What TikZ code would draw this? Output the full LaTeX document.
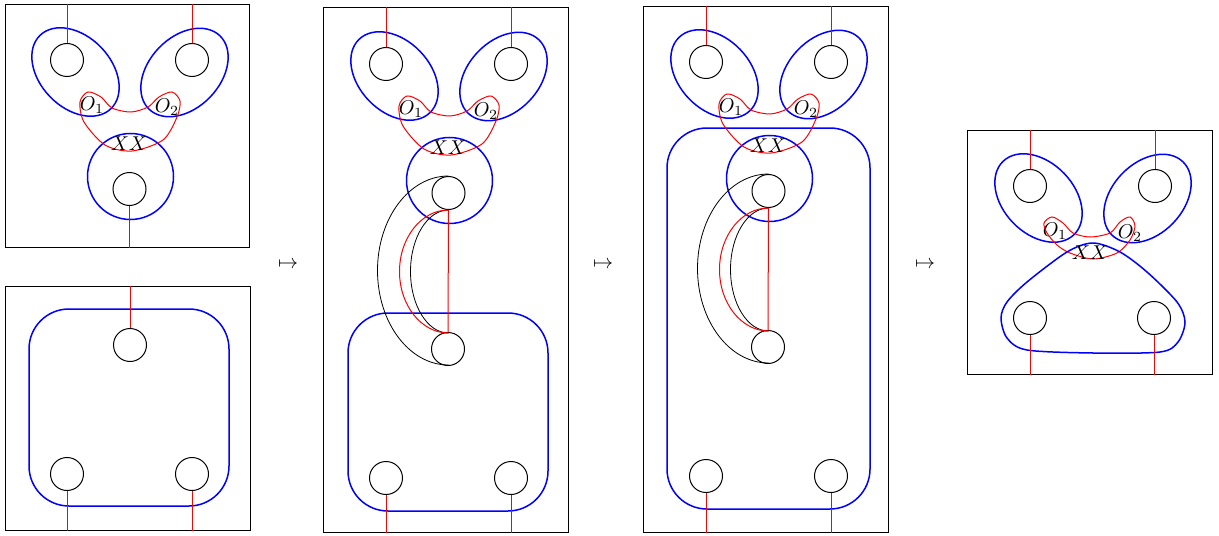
\documentclass[tikz,border=0pt]{standalone}

\tikzset{
  hole/.style={draw, circle, minimum size=16.5pt, inner sep=0pt, line width=0.5pt},
  ring/.style={draw=blue, line width=0.75pt},
  strand/.style={draw=red, line width=0.5pt},
  panel/.style={draw, line width=0.5pt, inner sep=0pt},
  lobes/.pic={
    \node[hole] (-tl) at (0,0) {};
    \node[hole] (-tr) at (125,0) {};
    \draw[ring, shift={(8.5,12)}, rotate=-46] (0,0) ellipse [x radius=51, y radius=35.5];
    \draw[ring, shift={(117.5,12.5)}, rotate=46] (0,0) ellipse [x radius=51, y radius=35.5];
    \node (-o1) at (25,45) {$O_1$};
    \node (-o2) at (100,47) {$O_2$};
  },
  knot/.pic={
    \draw[ring] (63.5,116.5) circle [radius=43];
    \draw[strand] plot[smooth cycle] coordinates {(13,42) (21,32) (34,37) (45,48) (64,52) (81,47) (92,37) (105,32) (113,41) (110,57) (96,80) (65,91) (38,85) (17,62)};
    \node (-xx) at (62,84) {$XX$};
    \node[hole] (-mid) at (62.5,129) {};
  },
}

\begin{document}
\begin{tikzpicture}[x=0.5pt, y=-0.5pt]
  \useasboundingbox (0,0) rectangle (1219,535);

  % first column, top
  \node[panel, minimum width=122pt, minimum height=121pt] (box1) at (127,126) {};
  \pic (p1) at (67,60) {lobes};
  \pic (p1) at (67,60) {knot};
  \draw[strand] (p1-tl.north) -- (p1-tl.north |- box1.north);
  \draw[strand] (p1-tr.north) -- (p1-tr.north |- box1.north);
  \draw[strand] (p1-mid.south) -- (p1-mid.south |- box1.south);

  % first column, bottom
  \node[panel, minimum width=122.5pt, minimum height=122pt] (box0) at (127.5,408) {};
  \draw[ring, rounded corners=20pt] (29,309) rectangle (229,506);
  \node[hole] (q-top) at (130,345) {};
  \node[hole] (q-bl) at (67,474) {};
  \node[hole] (q-br) at (192,474) {};
  \draw[strand] (q-top.north) -- (q-top.north |- box0.north);
  \draw[strand] (q-bl.south) -- (q-bl.south |- box0.south);
  \draw[strand] (q-br.south) -- (q-br.south |- box0.south);

  \node (m1) at (288,265) {$\mapsto$};

  % second panel
  \node[panel, minimum width=122.25pt, minimum height=262pt] (box2) at (445.75,270) {};
  \draw[ring, rounded corners=20pt] (348,313) rectangle (548,511);
  \pic (p2) at (386,64) {lobes};
  \pic (p2) at (386,64) {knot};
  \node[hole] (p2-low) at (448,349) {};
  \node[hole] (p2-bl) at (386,478) {};
  \node[hole] (p2-br) at (511,478) {};

  \node (m2) at (603,265) {$\mapsto$};

  % third panel
  \node[panel, minimum width=122.5pt, minimum height=262.5pt] (box3) at (765.5,269.5) {};
  \draw[ring, rounded corners=20pt] (667,128) rectangle (870,509);
  \pic (p3) at (706,62) {lobes};
  \pic (p3) at (706,62) {knot};
  \node[hole] (p3-low) at (768,347) {};
  \node[hole] (p3-bl) at (706,476) {};
  \node[hole] (p3-br) at (831,476) {};

  \foreach \p/\b in {p2/box2, p3/box3} {
    \draw (\p-mid.north) arc [start angle=-90, end angle=-270, x radius=71, y radius=94.5];
    \draw (\p-mid.south) arc [start angle=-90, end angle=-270, x radius=38, y radius=61.5];
    \draw[strand] (\p-mid.south) arc [start angle=-90, end angle=-270, x radius=49, y radius=61.5];
    \draw[strand] (\p-mid.south) -- (\p-low.north);
    \draw[strand] (\p-tl.north) -- (\p-tl.north |- \b.north);
    \draw[strand] (\p-tr.north) -- (\p-tr.north |- \b.north);
    \draw[strand] (\p-bl.south) -- (\p-bl.south |- \b.south);
    \draw[strand] (\p-br.south) -- (\p-br.south |- \b.south);
  }

  \node (m3) at (925,265) {$\mapsto$};

  % last panel
  \node[panel, minimum width=122.5pt, minimum height=122pt] (box4) at (1089.5,252) {};
  \pic (p4) at (1030,186) {lobes};
  \node[hole] (p4-bl) at (1030,318) {};
  \node[hole] (p4-br) at (1154,318) {};
  \begin{scope}[shift={(1030,186)}]
    \draw[strand] plot[smooth cycle] coordinates {(14,37) (22,31) (33,37) (43,47) (60,51) (80,47) (90,36) (100,31) (105,40) (100,54) (87,67) (63,73) (40,67) (27,59) (17,47)};
    \draw[ring] plot[smooth cycle] coordinates {(63,57) (90,66) (117,86) (147,116) (155,136) (148,156) (130,166) (63,167) (-3,164) (-23,152) (-29,132) (-23,116) (-3,96) (37,66)};
    \node (p4-xx) at (60,67) {$XX$};
  \end{scope}
  \draw[strand] (p4-tl.north) -- (p4-tl.north |- box4.north);
  \draw[strand] (p4-tr.north) -- (p4-tr.north |- box4.north);
  \draw[strand] (p4-bl.south) -- (p4-bl.south |- box4.south);
  \draw[strand] (p4-br.south) -- (p4-br.south |- box4.south);
\end{tikzpicture}
\end{document}
